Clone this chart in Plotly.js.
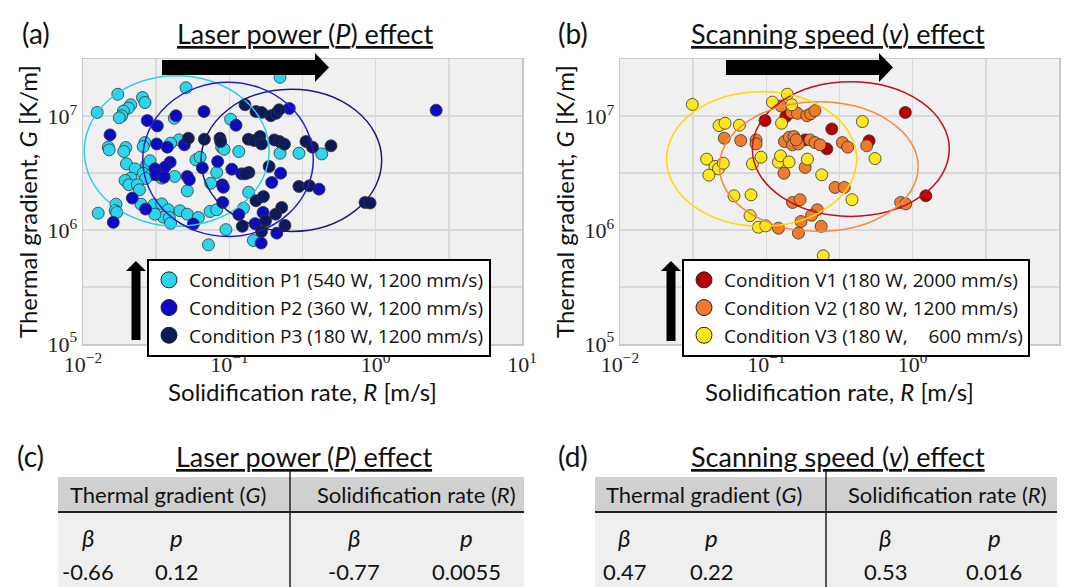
<!DOCTYPE html>
<html><head><meta charset="utf-8">
<script src="https://cdn.plot.ly/plotly-3.0.1.min.js"></script>
<style>html,body{margin:0;padding:0;background:#fff}#chart{width:1069px;height:587px}</style>
</head><body><div id="chart"></div>
<script>
// ---------- data ----------
const p1R = [0.222,0.0173,0.0255,0.0265,0.0506,0.0212,0.0204,0.0189,0.0184,0.0177,0.0125,0.0149,0.0151,0.0196,0.0190,0.0265,0.0258,0.0453,0.0397,0.0421,0.102,0.0887,0.092,0.116,0.222,0.299,0.428,0.0198,0.0227,0.0272,0.0287,0.0258,0.0292,0.0268,0.0213,0.0194,0.0206,0.0235,0.0243,0.0423,0.0345,0.0354,0.0591,0.0631,0.0516,0.082,0.0746,0.1355,0.0168,0.0166,0.0170,0.0127,0.0249,0.0305,0.0345,0.0383,0.0354,0.0310,0.0389,0.0397,0.0460,0.0516,0.0614,0.0738,0.082,0.125,0.0948,0.146,0.072];
const p1G = [2.20e7,1.56e7,1.46e7,1.32e7,1.78e7,1.26e7,1.18e7,1.11e7,1.01e7,9.7e6,1.08e7,5.35e6,5.07e6,5.31e6,4.90e6,5.87e6,5.42e6,6.20e6,5.80e6,9.6e6,9.42e6,5.35e6,5.13e6,4.90e6,4.73e6,4.73e6,4.67e6,3.82e6,3.45e6,3.74e6,4.06e6,3.16e6,3.06e6,2.84e6,2.86e6,2.73e6,2.50e6,2.50e6,2.26e6,2.96e6,2.86e6,3.00e6,4.14e6,4.37e6,2.21e6,3.21e6,2.58e6,2.15e6,1.69e6,1.48e6,1.43e6,1.41e6,1.69e6,1.67e6,1.70e6,1.51e6,1.30e6,1.38e6,1.29e6,1.15e6,1.48e6,1.38e6,1.29e6,1.46e6,1.51e6,1.56e6,1.01e6,8.11e5,7.43e5];
const p2R = [0.0671,0.0432,0.0275,0.0322,0.111,0.0153,0.0319,0.0377,0.0493,0.257,2.59,0.0394,0.0363,0.0310,0.0315,0.0358,0.0654,0.0832,0.104,0.1215,0.0516,0.0533,0.0896,0.091,0.195,0.224,0.410,0.0217,0.0268,0.0161,0.0901,0.116,0.170,0.150,0.0568,0.211,0.165];
const p2G = [1.10e7,1.01e7,9.16e6,8.22e6,8.34e6,6.86e6,5.71e6,5.35e6,5.61e6,1.17e7,1.13e7,3.95e6,3.57e6,3.45e6,3.06e6,2.92e6,3.52e6,4.00e6,3.43e6,3.12e6,2.96e6,2.77e6,2.50e6,2.38e6,2.62e6,3.16e6,2.29e6,1.91e6,1.53e6,1.17e6,1.75e6,1.37e6,1.43e6,1.14e6,1.13e6,9.41e5,7.69e5];
const p3R = [0.128,0.152,0.166,0.192,0.209,0.219,0.0525,0.0675,0.0863,0.0873,0.135,0.1476,0.162,0.166,0.203,0.220,0.238,0.334,0.370,0.495,0.136,0.129,0.187,0.299,0.352,0.152,0.171,0.228,0.207,0.177,0.166,0.1227,0.240,0.846,0.916];
const p3G = [1.26e7,1.10e7,1.08e7,1.01e7,1.06e7,1.14e7,6.41e6,6.28e6,6.41e6,6.00e6,6.28e6,6.12e6,6.63e6,5.71e6,6.20e6,6.00e6,5.68e6,6.00e6,5.35e6,5.50e6,3.21e6,3.12e6,3.62e6,2.42e6,2.45e6,1.81e6,1.97e6,1.58e6,1.38e6,1.21e6,9.73e5,1.08e6,1.10e6,1.75e6,1.73e6];

const v1R = [0.098,0.136,0.184,0.259,0.280,0.504,0.891,1.23];
const v1G = [9.16e6,9.93e6,6.20e6,5.17e6,7.74e6,6.08e6,1.08e7,2.00e6];
const v2R = [0.0516,0.0668,0.0851,0.0851,0.126,0.149,0.163,0.189,0.201,0.215,0.133,0.1435,0.1545,0.151,0.1656,0.160,0.199,0.215,0.233,0.331,0.360,0.485,0.132,0.184,0.295,0.341,0.151,0.170,0.223,0.204,0.1725,0.121,0.1656,0.237,0.828,0.897];
const v2G = [6.41e6,6.12e6,6.20e6,5.71e6,1.23e7,1.08e7,1.06e7,1.01e7,1.05e7,1.12e7,6.00e6,6.55e6,6.63e6,5.61e6,5.71e6,6.20e6,6.20e6,5.87e6,5.61e6,5.87e6,5.35e6,5.50e6,3.16e6,3.55e6,2.37e6,2.37e6,1.75e6,1.85e6,1.51e6,1.35e6,1.19e6,1.04e6,9.41e5,1.08e6,1.75e6,1.70e6];
const v3R = [0.0312,0.0475,0.0522,0.0654,0.110,0.139,0.149,0.127,0.0391,0.0446,0.047,0.0508,0.0405,0.0803,0.092,0.121,0.125,0.143,0.191,0.239,0.453,0.553,0.0601,0.0786,0.385,0.0774,0.0882,0.099,0.245];
const v3G = [1.27e7,8.28e6,8.68e6,8.34e6,1.33e7,1.56e7,1.26e7,8.68e6,4.20e6,3.62e6,3.45e6,3.87e6,3.04e6,3.82e6,4.37e6,3.95e6,4.49e6,3.97e6,4.20e6,3.06e6,8.98e6,4.25e6,2.00e6,2.04e6,1.85e6,1.34e6,1.06e6,1.09e6,5.96e5];

// condition names
const laserNames = ['Condition P1 (540 W, 1200 mm/s)','Condition P2 (360 W, 1200 mm/s)','Condition P3 (180 W, 1200 mm/s)'];
const speedNames = ['Condition V1 (180 W, 2000 mm/s)','Condition V2 (180 W, 1200 mm/s)','Condition V3 (180 W, \u2007\u00a0600 mm/s)'];

// ellipse extents (R min, R max, G min, G max) per condition
const laserEllR0 = [0.0102,0.0256,0.0641];
const laserEllR1 = [0.187,0.375,1.10];
const laserEllG0 = [1.08e6,8.79e5,9.73e5];
const laserEllG1 = [2.27e7,1.99e7,1.73e7];
const speedEllR0 = [0.0802,0.0478,0.0208];
const speedEllR1 = [1.78,1.09,0.415];
const speedEllG0 = [1.32e6,9.73e5,1.08e6];
const speedEllG1 = [2.01e7,1.34e7,1.64e7];

// axis ticks
const tickVals = [0.01,0.1,1,10];
const tickTextR = ['10<sup>\u22122</sup>','10<sup>\u22121</sup>','10<sup>0</sup>','10<sup>1</sup>'];
const halfDecR = [0.0316,0.316,3.16];
const gTickVals = [1e5,1e6,1e7];
const gTickText = ['10<sup>5</sup>','10<sup>6</sup>','10<sup>7</sup>'];
const halfDecG = [3.16e5,3.16e6,3.16e7];

// table contents
const tableGroups = ['Thermal gradient (<i>G</i>)','Solidification rate (<i>R</i>)'];
const statLabels = ['<i>\u03b2</i>','<i>p</i>','<i>\u03b2</i>','<i>p</i>'];
const laserStats = ['-0.66','0.12','-0.77','0.0055'];
const speedStats = ['0.47','0.22','0.53','0.016'];

// ---------- styling ----------
const laserColors = ['#2ad6ee','#0b0bc6','#0c1a5c'];
const laserLine = ['#2ccdee','#2020c8','#1c1c6a'];
const speedColors = ['#b60000','#f07b2a','#ffe61a'];
const speedLine = ['#c0101e','#f58a3d','#ffd800'];
const SANS = 'Lato, "Open Sans", sans-serif';
const W = 1069, H = 587;
const PX = x => x / W, PY = y => 1 - y / H;

const traces = [];
function addGroup(Rs, Gs, colors, names, xa, ya, lg) {
  Rs.forEach((r, i) => {
    traces.push({x: r, y: Gs[i], type: 'scatter', mode: 'markers', xaxis: xa, yaxis: ya, showlegend: false,
      marker: {size: 12, color: colors[i], line: {color: '#333', width: 0.8}}, hoverinfo: 'x+y', name: names[i]});
  });
  names.forEach((n, i) => {
    traces.push({x: [null], y: [null], type: 'scatter', mode: 'markers', xaxis: xa, yaxis: ya, legend: lg,
      marker: {size: 16, color: colors[i], line: {color: '#222', width: 1}}, name: n});
  });
}
addGroup([p1R, p2R, p3R], [p1G, p2G, p3G], laserColors, laserNames, 'x', 'y', 'legend');
addGroup([v1R, v2R, v3R], [v1G, v2G, v3G], speedColors, speedNames, 'x2', 'y2', 'legend2');

const shapes = [];
function addEllipses(r0, r1, g0, g1, colors, xr, yr) {
  r0.forEach((_, i) => shapes.push({type: 'circle', xref: xr, yref: yr, x0: r0[i], x1: r1[i], y0: g0[i], y1: g1[i],
    line: {color: colors[i], width: 1.5}, layer: 'above'}));
}
addEllipses(laserEllR0, laserEllR1, laserEllG0, laserEllG1, laserLine, 'x', 'y');
addEllipses(speedEllR0, speedEllR1, speedEllG0, speedEllG1, speedLine, 'x2', 'y2');

function pathPx(pts) { return 'M' + pts.map(p => PX(p[0]).toFixed(5) + ',' + PY(p[1]).toFixed(5)).join('L') + 'Z'; }
function hArrow(x0, xh, xt) {
  return {type: 'path', xref: 'paper', yref: 'paper', fillcolor: '#000', line: {width: 0},
    path: pathPx([[x0,60],[xh,60],[xh,53],[xt,67.5],[xh,82],[xh,75],[x0,75]])};
}
function vArrow(xc, yb) {
  return {type: 'path', xref: 'paper', yref: 'paper', fillcolor: '#000', line: {width: 0},
    path: pathPx([[xc-4.5,yb],[xc-4.5,271],[xc-10,271],[xc,261],[xc+10,271],[xc+4.5,271],[xc+4.5,yb]])};
}
shapes.push(hArrow(162, 315, 329), hArrow(726, 879, 893), vArrow(136, 340), vArrow(671, 341));

// tables
function addTable(xl, xr, xd) {
  shapes.push({type: 'rect', xref: 'paper', yref: 'paper', x0: PX(xl), x1: PX(xr), y0: PY(512), y1: PY(477), fillcolor: '#d0d0d0', line: {width: 0}, layer: 'below'});
  shapes.push({type: 'rect', xref: 'paper', yref: 'paper', x0: PX(xl), x1: PX(xr), y0: PY(587), y1: PY(512), fillcolor: '#efefef', line: {width: 0}, layer: 'below'});
  shapes.push({type: 'line', xref: 'paper', yref: 'paper', x0: PX(xl), x1: PX(xr), y0: PY(512), y1: PY(512), line: {color: '#222', width: 2}});
  shapes.push({type: 'line', xref: 'paper', yref: 'paper', x0: PX(xd), x1: PX(xd), y0: PY(471), y1: PY(587), line: {color: '#222', width: 1.5}});
}
addTable(58, 524, 290);
addTable(595, 1057, 826);

const annotations = [];
function txt(x, y, text, size) {
  annotations.push({xref: 'paper', yref: 'paper', x: PX(x), y: PY(y), text: text, showarrow: false,
    xanchor: 'center', yanchor: 'middle', font: {family: SANS, size: size, color: '#111'}});
}
txt(36, 33, '(a)', 28); txt(305, 33, '<u>Laser power (<i>P</i>) effect</u>', 27);
txt(573, 33, '(b)', 28); txt(838, 33, '<u>Scanning speed (<i>v</i>) effect</u>', 27);
txt(30, 456, '(c)', 28); txt(304, 456, '<u>Laser power (<i>P</i>) effect</u>', 27);
txt(573, 456, '(d)', 28); txt(838, 456, '<u>Scanning speed (<i>v</i>) effect</u>', 27);

const laserGroupX = [168, 416], speedGroupX = [704, 947];
const laserColX = [88, 176, 354, 466], speedColX = [624, 711, 885, 994];
tableGroups.forEach((g, i) => { txt(laserGroupX[i], 494, g, 22); txt(speedGroupX[i], 494, g, 22); });
statLabels.forEach((s, i) => { txt(laserColX[i], 537, s, 24); txt(speedColX[i], 537, s, 24); });
laserStats.forEach((s, i) => txt(laserColX[i], 571, s, 22));
speedStats.forEach((s, i) => txt(speedColX[i], 571, s, 22));

function xAxis(d, anchor) {
  return {domain: d, anchor: anchor, type: 'log', range: [-2, 1], tickmode: 'array', tickvals: tickVals, ticktext: tickTextR,
    showgrid: true, gridcolor: '#d9d9d9', gridwidth: 1.5, zeroline: false, ticks: '',
    minor: {tickmode: 'array', tickvals: halfDecR, showgrid: true, gridcolor: '#d9d9d9', gridwidth: 1.5, ticks: ''},
    showline: true, mirror: true, linecolor: '#c8c8c8', linewidth: 1.5,
    tickfont: {family: '"Liberation Serif", serif', size: 22, color: '#222'},
    title: {text: 'Solidification rate, <i>R</i> [m/s]', font: {family: SANS, size: 24, color: '#111'}, standoff: 8},
    fixedrange: true};
}
function yAxis(d, anchor) {
  return {domain: d, anchor: anchor, type: 'log', range: [5, 7.5], tickmode: 'array', tickvals: gTickVals, ticktext: gTickText,
    showgrid: true, gridcolor: '#d9d9d9', gridwidth: 1.5, zeroline: false, ticks: '',
    minor: {tickmode: 'array', tickvals: halfDecG, showgrid: true, gridcolor: '#d9d9d9', gridwidth: 1.5, ticks: ''},
    showline: true, mirror: true, linecolor: '#c8c8c8', linewidth: 1.5,
    tickfont: {family: '"Liberation Serif", serif', size: 22, color: '#222'},
    title: {text: 'Thermal gradient, <i>G</i> [K/m]', font: {family: SANS, size: 24, color: '#111'}, standoff: 3},
    fixedrange: true};
}
const legendStyle = lx => ({x: PX(lx), y: PY(259), xanchor: 'left', yanchor: 'top', bgcolor: '#fff', bordercolor: '#000', borderwidth: 2,
  font: {family: '"Open Sans", sans-serif', size: 19, color: '#111'}, itemsizing: 'trace', itemwidth: 30, tracegroupgap: 0});

const layout = {
  width: W, height: H, margin: {l: 0, r: 0, t: 0, b: 0}, paper_bgcolor: '#fff', plot_bgcolor: '#f0f0f0',
  xaxis: xAxis([PX(83), PX(522)], 'y'), yaxis: yAxis([PY(344), PY(59.3)], 'x'),
  xaxis2: xAxis([PX(620), PX(1059)], 'y2'), yaxis2: yAxis([PY(344), PY(59.3)], 'x2'),
  legend: legendStyle(147), legend2: legendStyle(682),
  shapes: shapes, annotations: annotations, showlegend: true
};
Plotly.newPlot('chart', traces, layout, {staticPlot: true, displayModeBar: false});
</script></body></html>
